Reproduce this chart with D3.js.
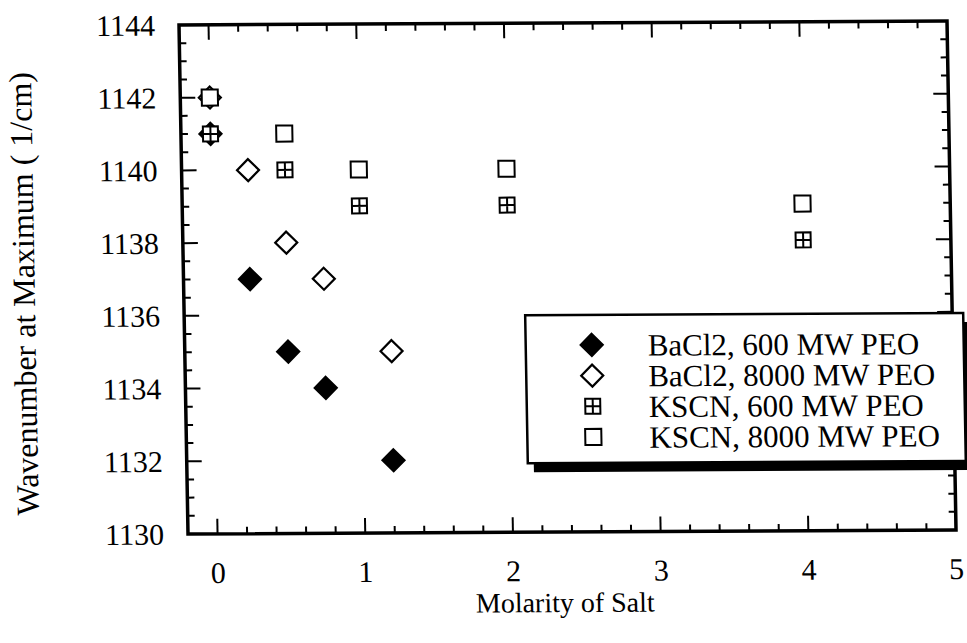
<!DOCTYPE html>
<html>
<head>
<meta charset="utf-8">
<script src="https://cdn.jsdelivr.net/npm/d3@7"></script>
<style>
	body {margin:0; background:#fff;}
</style>
</head>
<body>
<div class="c_chart"></div>
<script>

/*DATA
------------------------------------------------------
*/

const seriesNames = ["BaCl2, 600 MW PEO", "BaCl2, 8000 MW PEO", "KSCN, 600 MW PEO", "KSCN, 8000 MW PEO"];
const bacl2Molarity = [0, 0.25, 0.5, 0.75, 1.2];
const kscnMolarity = [0, 0.5, 1, 2, 4];
const bacl2_600 = [1141, 1137, 1135, 1134, 1132];
const bacl2_8000 = [1142, 1140, 1138, 1137, 1135];
const kscn_600 = [1141, 1140, 1139, 1139, 1138];
const kscn_8000 = [1142, 1141, 1140, 1140, 1139];
const xTicks = [0, 1, 2, 3, 4, 5];
const yTicks = [1130, 1132, 1134, 1136, 1138, 1140, 1142, 1144];

/*DIMENSION
------------------------------------------------------
*/

const width = 967, height = 643;
const w = 768, h = 509; // plot frame
const serif = "Liberation Serif";

const svg = d3.select(".c_chart").append("svg")
	.attr("width", width)
	.attr("height", height);

svg.append("rect").attr("width", width).attr("height", height).attr("fill", "#fff");

// the scan is slightly sheared, keep that
const g = svg.append("g")
	.attr("transform", "matrix(1,-0.0052,0.0177,1,179,25)");

const x = d3.scaleLinear().domain([-0.2, 5]).range([0, w]);
const y = d3.scaleLinear().domain([1130, 1144]).range([h, 0]);

/*TICKS
------------------------------------------------------
*/

const xMinor = d3.range(-0.2, 5.01, 0.2).filter(d => Math.abs(d - Math.round(d)) > 0.01);
const yMinor = d3.range(1130, 1144.01, 0.5).filter(d => d % 2 !== 0);
const big = 15, small = 7;

function ticks(vals, len) {
	vals.forEach(function(v){
		g.append("line").attr("x1", x(v)).attr("x2", x(v)).attr("y1", h).attr("y2", h - len);
		g.append("line").attr("x1", x(v)).attr("x2", x(v)).attr("y1", 0).attr("y2", len);
	});
}
function yticks(vals, len) {
	vals.forEach(function(v){
		g.append("line").attr("x1", 0).attr("x2", len).attr("y1", y(v)).attr("y2", y(v));
		g.append("line").attr("x1", w).attr("x2", w - len).attr("y1", y(v)).attr("y2", y(v));
	});
}
ticks(xTicks, big);
ticks(xMinor, small);
yticks(yTicks, big);
yticks(yMinor, small);
g.selectAll("line").attr("stroke", "#000").attr("stroke-width", 2);

g.append("rect")
	.attr("width", w).attr("height", h)
	.attr("fill", "none").attr("stroke", "#000").attr("stroke-width", 3.5);

g.selectAll(".xl").data(xTicks).enter().append("text")
	.attr("x", d => x(d)).attr("y", h + 49)
	.attr("text-anchor", "middle")
	.style("font-family", serif)
	.attr("font-size", 30)
	.text(d => d);

g.selectAll(".yl").data(yTicks).enter().append("text")
	.attr("x", -24).attr("y", d => y(d))
	.attr("dy", "0.35em")
	.attr("text-anchor", "end")
	.style("font-family", serif)
	.attr("font-size", 30)
	.text(d => d);

g.append("text")
	.attr("x", 376).attr("y", 589)
	.attr("text-anchor", "middle")
	.style("font-family", serif)
	.attr("font-size", 28)
	.text("Molarity of Salt");

g.append("text")
	.attr("transform", "translate(-149,268) rotate(-90)")
	.attr("text-anchor", "middle")
	.style("font-family", serif)
	.attr("font-size", 32)
	.text("Wavenumber at Maximum ( 1/cm)");

/*MARKERS
------------------------------------------------------
*/

const diamond = d3.symbol().type(d3.symbolSquare).size(242)();
const square = d3.symbol().type(d3.symbolSquare).size(260)();
const plusSq = d3.symbol().type(d3.symbolSquare).size(225)();

function drawMarker(sel, kind) {
	if (kind === 0 || kind === 1) {
		sel.append("path").attr("d", diamond)
			.attr("transform", "rotate(45)")
			.attr("fill", kind === 0 ? "#000" : "#fff")
			.attr("stroke", "#000").attr("stroke-width", 2.2);
	} else if (kind === 2) {
		sel.append("path").attr("d", plusSq)
			.attr("fill", "#fff").attr("stroke", "#000").attr("stroke-width", 2);
		sel.append("path").attr("d", "M-7.5,0H7.5M0,-7.5V7.5")
			.attr("stroke", "#000").attr("stroke-width", 2);
	} else {
		sel.append("path").attr("d", square)
			.attr("fill", "#fff").attr("stroke", "#000").attr("stroke-width", 2);
	}
}

const series = [
	{kind:0, xs:bacl2Molarity, ys:bacl2_600},
	{kind:1, xs:bacl2Molarity, ys:bacl2_8000},
	{kind:2, xs:kscnMolarity, ys:kscn_600},
	{kind:3, xs:kscnMolarity, ys:kscn_8000}
];

series.forEach(function(s){
	s.xs.forEach(function(xv, i){
		const m = g.append("g").attr("transform", "translate(" + x(xv) + "," + y(s.ys[i]) + ")");
		drawMarker(m, s.kind);
	});
});

/*LEGEND
------------------------------------------------------
*/

const lx = 341, ly = 292, lw = 438, lh = 148;
const leg = g.append("g").attr("transform", "translate(" + lx + "," + ly + ")");
leg.append("rect").attr("x", 6).attr("y", 9).attr("width", lw).attr("height", lh).attr("fill", "#000");
leg.append("rect").attr("width", lw).attr("height", lh)
	.attr("fill", "#fff").attr("stroke", "#000").attr("stroke-width", 2.5);

seriesNames.forEach(function(name, i){
	const row = leg.append("g").attr("transform", "translate(66," + (30 + i * 30.7) + ")");
	drawMarker(row, i);
	row.append("text")
		.attr("x", 56).attr("y", 11)
		.style("font-family", serif)
		.attr("font-size", 31)
		.text(name);
});

</script>
</body>
</html>
